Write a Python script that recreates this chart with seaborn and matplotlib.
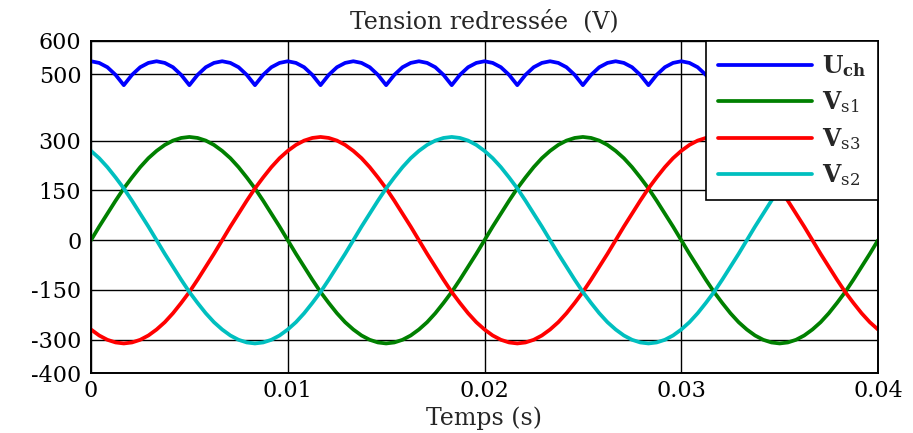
import matplotlib
matplotlib.use("Agg")
import matplotlib.pyplot as plt
import seaborn as sns
import pandas as pd

# All signals sampled every 1/2400 s over 0 .. 0.04 s, in volts
t = [i / 2400 for i in range(97)]

uch = [539, 534, 521, 498, 467, 498, 521, 534,
       539, 534, 521, 498, 467, 498, 521, 534,
       539, 534, 521, 498, 467, 498, 521, 534,
       539, 534, 521, 498, 467, 498, 521, 534,
       539, 534, 521, 498, 467, 498, 521, 534,
       539, 534, 521, 498, 467, 498, 521, 534,
       539, 534, 521, 498, 467, 498, 521, 534,
       539, 534, 521, 498, 467, 498, 521, 534,
       539, 534, 521, 498, 467, 498, 521, 534,
       539, 534, 521, 498, 467, 498, 521, 534,
       539, 534, 521, 498, 467, 498, 521, 534,
       539, 534, 521, 498, 467, 498, 521, 534,
       539]

vs1 = [0, 41, 80, 119, 156, 189, 220, 247, 269, 287, 300, 308,
       311, 308, 300, 287, 269, 247, 220, 189, 156, 119, 80, 41,
       0, -41, -80, -119, -156, -189, -220, -247, -269, -287, -300, -308,
       -311, -308, -300, -287, -269, -247, -220, -189, -156, -119, -80, -41,
       0, 41, 80, 119, 156, 189, 220, 247, 269, 287, 300, 308,
       311, 308, 300, 287, 269, 247, 220, 189, 156, 119, 80, 41,
       0, -41, -80, -119, -156, -189, -220, -247, -269, -287, -300, -308,
       -311, -308, -300, -287, -269, -247, -220, -189, -156, -119, -80, -41,
       0]

vs3 = [-269, -287, -300, -308, -311, -308, -300, -287, -269, -247, -220, -189,
       -156, -119, -80, -41, 0, 41, 80, 119, 156, 189, 220, 247,
       269, 287, 300, 308, 311, 308, 300, 287, 269, 247, 220, 189,
       156, 119, 80, 41, 0, -41, -80, -119, -156, -189, -220, -247,
       -269, -287, -300, -308, -311, -308, -300, -287, -269, -247, -220, -189,
       -156, -119, -80, -41, 0, 41, 80, 119, 156, 189, 220, 247,
       269, 287, 300, 308, 311, 308, 300, 287, 269, 247, 220, 189,
       156, 119, 80, 41, 0, -41, -80, -119, -156, -189, -220, -247,
       -269]

vs2 = [269, 247, 220, 189, 156, 119, 80, 41, 0, -41, -80, -119,
       -156, -189, -220, -247, -269, -287, -300, -308, -311, -308, -300, -287,
       -269, -247, -220, -189, -156, -119, -80, -41, 0, 41, 80, 119,
       156, 189, 220, 247, 269, 287, 300, 308, 311, 308, 300, 287,
       269, 247, 220, 189, 156, 119, 80, 41, 0, -41, -80, -119,
       -156, -189, -220, -247, -269, -287, -300, -308, -311, -308, -300, -287,
       -269, -247, -220, -189, -156, -119, -80, -41, 0, 41, 80, 119,
       156, 189, 220, 247, 269, 287, 300, 308, 311, 308, 300, 287,
       269]

x_ticks = [0, 0.01, 0.02, 0.03, 0.04]
x_tick_labels = ["0", "0.01", "0.02", "0.03", "0.04"]
y_ticks = [600, 500, 300, 150, 0, -150, -300, -400]
y_tick_labels = ["600", "500", "300", "150", "0", "-150", "-300", "-400"]

series = ["uch", "vs1", "vs3", "vs2"]
labels = [r"$\mathbf{U}_{\mathbf{ch}}$", r"$\mathbf{V}_{\mathrm{s1}}$",
          r"$\mathbf{V}_{\mathrm{s3}}$", r"$\mathbf{V}_{\mathrm{s2}}$"]
colors = ["#0000ff", "#008000", "#ff0000", "#00bfbf"]

sns.set_style("white")
plt.rcParams["font.family"] = ["DejaVu Serif"]
plt.rcParams["mathtext.fontset"] = "dejavuserif"

fig = plt.figure(figsize=(9.13, 4.33), dpi=100)
ax = fig.add_axes([91 / 913, 1 - 373 / 433, 787 / 913, 332 / 433])

df = pd.DataFrame({"t": t, "uch": uch, "vs1": vs1, "vs3": vs3, "vs2": vs2})

lw = 2.7
for col, lab, c in zip(series, labels, colors):
    sns.lineplot(data=df, x="t", y=col, ax=ax, color=c, lw=lw,
                 label=lab, estimator=None, sort=False)

ax.set_xlim(0, 0.04)
ax.set_ylim(-400, 600)
ax.set_xticks(x_ticks)
ax.set_xticklabels(x_tick_labels)
ax.set_yticks(y_ticks)
ax.set_yticklabels(y_tick_labels)
ax.tick_params(axis="both", length=0, labelsize=16, colors="black")
ax.tick_params(axis="y", pad=7)
ax.tick_params(axis="x", pad=5)
ax.grid(True, color="black", lw=1.0)
for s in ax.spines.values():
    s.set_color("black")
    s.set_linewidth(1.4)
ax.set_axisbelow(True)

ax.set_xlabel("Temps (s)", fontsize=17, labelpad=3)
ax.set_ylabel("")
ax.set_title("Tension redressée  (V)", fontsize=17, pad=9)

leg = ax.legend(loc="upper right", bbox_to_anchor=(1.0, 1.0), borderaxespad=0,
                fontsize=17, handlelength=4.0, handletextpad=0.4,
                labelspacing=0.45, borderpad=0.5, fancybox=False,
                framealpha=1, edgecolor="black")
leg.get_frame().set_linewidth(1.2)
for h in leg.get_lines():
    h.set_linewidth(2.7)

fig.savefig("out.png", dpi=100)
